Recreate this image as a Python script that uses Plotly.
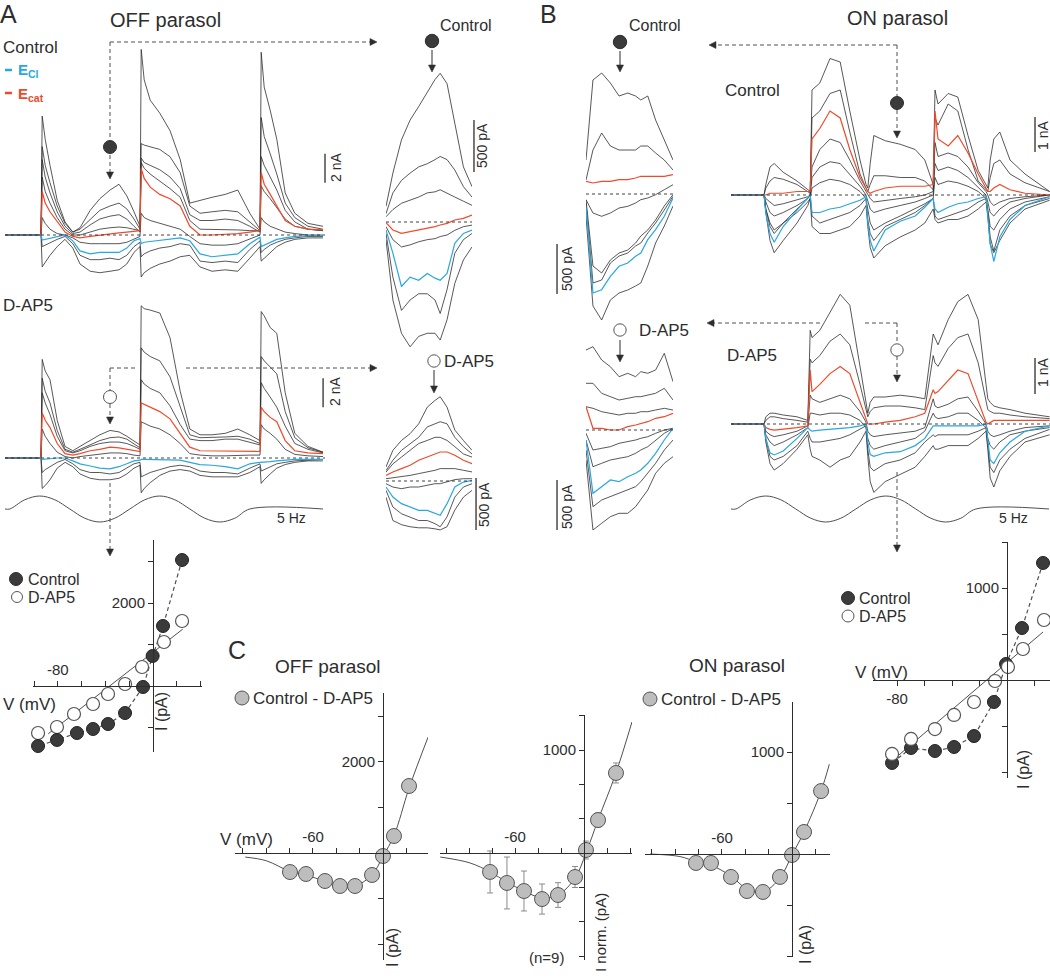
import plotly.graph_objects as go

W, H = 1050, 978
FONT = "Liberation Sans, Arial, Helvetica, sans-serif"
INK = "#2d2d2d"
GREY = "#505050"
RED = "#ef4a2b"
BLUE = "#29a7e0"
DARK_DOT = "#3b3b3b"
GREY_DOT = "#bdbdbd"

# %% Data ------------------------------------------------------------------
# Panel A recordings, current in nA, sampled at T_A (ms)
T_A = [0, 60, 62, 67, 75, 87, 100, 113, 125, 142, 158, 175, 190, 203, 215,
       225, 227, 232, 242, 258, 275, 292, 308, 325, 345, 367, 388, 408, 425,
       427, 432, 442, 453, 467, 483, 505, 530]

A_CTRL_BLACK = [
    [0, 0, 8.2, 6.6, 4.8, 2.4, 0.9, 0.2, 0.5, 1.7, 2.5, 3.1, 3.5, 2.7, 1.6, 0.6, 12.8, 10.7, 9.3, 8.4, 7.2, 5.2, 2.2, 2.4, 2.6, 2.8, 3.1, 1.5, 0.4, 12.6, 10.2, 8.6, 6.6, 2.9, 1.5, 0.8, 0.6],
    [0, 0, 6.1, 4.8, 3.6, 2.0, 0.8, 0.2, 0.4, 1.1, 1.7, 2.0, 2.2, 1.8, 1.1, 0.4, 6.3, 6.2, 6.1, 5.9, 5.4, 4.3, 2.0, 1.5, 1.6, 1.7, 1.6, 0.9, 0.3, 8.1, 6.8, 5.6, 4.2, 2.2, 1.2, 0.6, 0.4],
    [0, 0, 5.2, 4.0, 2.9, 1.6, 0.6, 0.1, 0.2, 0.7, 1.1, 1.3, 1.4, 1.1, 0.6, 0.2, 5.3, 5.0, 4.8, 4.5, 4.0, 3.2, 1.4, 1.0, 1.0, 1.1, 1.0, 0.6, 0.2, 5.4, 4.8, 4.0, 3.1, 1.7, 0.9, 0.4, 0.3],
    [0, 0, 4.0, 3.0, 2.2, 1.2, 0.4, 0.0, 0.0, 0.2, 0.4, 0.5, 0.55, 0.5, 0.4, 0.3, 5.0, 4.6, 4.2, 3.7, 3.2, 2.6, 1.0, 0.4, 0.4, 0.4, 0.35, 0.3, 0.3, 3.4, 3.0, 2.5, 1.9, 1.1, 0.6, 0.4, 0.3],
    [0, 0, 1.2, 0.8, 0.4, 0.1, 0.0, -0.2, -0.5, -0.6, -0.6, -0.6, -0.6, -0.5, -0.3, -0.1, 1.5, 1.2, 1.0, 0.8, 0.6, 0.4, -0.1, -0.6, -0.7, -0.7, -0.6, -0.3, 0.0, 1.2, 0.9, 0.6, 0.4, 0.2, 0.1, 0.0, 0.0],
    [0, 0, -0.8, -0.7, -0.5, -0.3, -0.1, -0.6, -1.4, -1.7, -1.7, -1.6, -1.7, -1.4, -0.8, -0.5, -1.5, -1.3, -1.1, -0.9, -0.8, -0.6, -0.7, -1.8, -1.9, -1.8, -1.9, -1.0, -0.4, -1.2, -1.0, -0.7, -0.5, -0.3, -0.2, -0.1, -0.1],
    [0, 0, -2.2, -1.9, -1.4, -0.8, -0.3, -0.9, -2.0, -2.5, -2.6, -2.5, -2.4, -2.0, -1.2, -0.8, -2.9, -2.6, -2.3, -2.0, -1.8, -1.5, -1.4, -2.2, -2.5, -2.4, -2.5, -1.6, -0.8, -1.8, -1.6, -1.2, -0.8, -0.5, -0.3, -0.2, -0.2],
]
A_CTRL_RED = [0, 0, 3.0, 2.2, 1.6, 0.9, 0.2, -0.1, -0.2, -0.1, 0.0, 0.1, 0.15, 0.2, 0.25, 0.3, 4.6, 3.9, 3.3, 2.8, 2.5, 2.0, 0.6, 0.0, 0.0, 0.05, 0.1, 0.2, 0.3, 4.3, 3.5, 2.8, 2.0, 1.0, 0.6, 0.4, 0.35]
A_CTRL_BLUE = [0, 0, -0.35, -0.3, -0.25, -0.1, 0.0, -0.4, -1.1, -1.3, -1.2, -1.2, -1.2, -0.9, -0.4, -0.25, -0.6, -0.5, -0.45, -0.35, -0.3, -0.2, -0.4, -1.3, -1.5, -1.4, -1.3, -0.6, -0.15, -0.8, -0.7, -0.5, -0.3, -0.2, -0.1, -0.05, -0.05]

A_AP5_BLACK = [
    [0, 0, 6.8, 6.0, 5.4, 2.6, 0.8, 0.5, 0.8, 1.2, 1.6, 1.9, 1.8, 1.5, 1.2, 0.9, 10.5, 10.3, 10.2, 10.0, 8.3, 4.6, 2.0, 1.6, 1.6, 1.7, 2.0, 1.6, 1.2, 10.1, 9.8, 9.0, 8.6, 4.5, 1.7, 0.8, 0.4],
    [0, 0, 5.5, 4.6, 3.8, 1.9, 0.6, 0.4, 0.6, 0.9, 1.2, 1.4, 1.45, 1.3, 1.0, 0.7, 7.6, 7.3, 7.0, 6.7, 5.6, 3.6, 1.6, 1.4, 1.4, 1.45, 1.5, 1.3, 1.0, 7.0, 6.7, 6.3, 5.8, 3.2, 1.4, 0.7, 0.4],
    [0, 0, 4.5, 3.8, 3.0, 1.5, 0.5, 0.35, 0.5, 0.8, 1.0, 1.1, 1.1, 1.0, 0.8, 0.6, 5.4, 5.1, 4.8, 4.5, 3.6, 2.3, 1.3, 1.2, 1.2, 1.3, 1.3, 1.1, 0.9, 5.2, 4.8, 4.2, 3.5, 2.2, 1.0, 0.6, 0.35],
    [0, 0, 2.0, 1.5, 1.0, 0.4, 0.1, 0.0, 0.1, 0.2, 0.3, 0.35, 0.35, 0.3, 0.2, 0.15, 2.5, 2.4, 2.2, 2.0, 1.6, 1.0, 0.3, 0.2, 0.15, 0.15, 0.2, 0.2, 0.2, 2.3, 2.0, 1.7, 1.3, 0.6, 0.25, 0.15, 0.1],
    [0, 0, -1.0, -0.8, -0.6, -0.3, -0.1, -0.4, -0.8, -1.0, -1.0, -1.1, -1.0, -0.7, -0.4, -0.3, -1.3, -1.2, -1.0, -0.8, -0.6, -0.5, -0.6, -0.9, -1.0, -1.0, -1.1, -0.7, -0.4, -0.9, -0.8, -0.6, -0.4, -0.3, -0.2, -0.15, -0.1],
    [0, 0, -2.1, -1.9, -1.5, -0.7, -0.3, -0.6, -1.1, -1.4, -1.5, -1.5, -1.4, -1.1, -0.7, -0.5, -2.4, -2.1, -1.7, -1.2, -0.9, -0.8, -0.9, -1.2, -1.3, -1.3, -1.3, -1.0, -0.6, -1.75, -1.5, -1.1, -0.7, -0.45, -0.3, -0.2, -0.2],
]
A_AP5_RED = [0, 0, 3.1, 2.6, 2.1, 1.0, 0.3, 0.2, 0.3, 0.5, 0.6, 0.75, 0.7, 0.6, 0.5, 0.45, 3.8, 3.7, 3.5, 3.2, 2.7, 1.7, 0.75, 0.5, 0.5, 0.5, 0.5, 0.5, 0.45, 3.5, 3.2, 2.8, 2.5, 1.2, 0.5, 0.35, 0.3]
A_AP5_BLUE = [0, 0, -0.1, -0.1, -0.05, 0.0, 0.0, -0.2, -0.4, -0.55, -0.7, -0.75, -0.6, -0.4, -0.2, -0.15, -0.1, -0.1, -0.1, -0.15, -0.15, -0.15, -0.3, -0.45, -0.5, -0.6, -0.75, -0.4, -0.3, -0.3, -0.3, -0.25, -0.2, -0.15, -0.1, -0.1, -0.1]

# Panel B recordings, current in nA, sampled at T_B (ms)
T_B = [0, 55, 58, 65, 72, 87, 110, 128, 132, 135, 148, 165, 182, 198, 215,
       225, 228, 232, 238, 257, 282, 307, 323, 337, 340, 345, 362, 378, 395,
       412, 425, 428, 432, 438, 448, 465, 490, 531]

B_CTRL_BLACK = [
    [0, 0, 0.3, 0.8, 0.9, 0.65, 0.4, 0.15, 0.1, 3.0, 3.2, 3.9, 3.8, 2.4, 1.0, 0.3, 0.2, 0.9, 1.7, 1.55, 1.45, 1.3, 1.0, 0.3, 3.0, 2.6, 2.9, 2.8, 1.7, 0.7, 0.3, 0.2, 1.0, 1.6, 1.8, 1.0, 0.6, 0.1],
    [0, 0, 0.2, 0.4, 0.5, 0.45, 0.3, 0.1, 0.05, 2.2, 2.4, 2.9, 3.0, 1.8, 0.6, 0.2, 0.1, 0.3, 0.55, 0.55, 0.5, 0.5, 0.4, 0.15, 2.2, 2.0, 2.6, 2.4, 1.3, 0.4, 0.15, 0.1, 0.5, 0.9, 1.0, 0.6, 0.35, 0.1],
    [0, 0, -0.1, -0.2, -0.3, -0.25, -0.15, -0.05, 0.0, 0.8, 1.3, 1.6, 1.5, 1.0, 0.4, 0.1, 0.0, -0.1, -0.2, -0.15, -0.1, -0.05, 0.0, 0.1, 1.5, 1.1, 1.2, 1.1, 0.8, 0.35, 0.1, 0.0, -0.2, -0.3, -0.2, -0.1, -0.05, 0.0],
    [0, 0, -0.2, -0.5, -0.6, -0.5, -0.3, -0.1, 0.0, 0.5, 0.8, 0.95, 0.9, 0.6, 0.25, 0.0, -0.2, -0.4, -0.5, -0.4, -0.3, -0.2, -0.1, 0.0, 0.9, 0.7, 0.8, 0.7, 0.5, 0.2, 0.0, -0.2, -0.5, -0.6, -0.4, -0.2, -0.1, 0.0],
    [0, 0, -0.4, -0.8, -1.0, -0.8, -0.5, -0.2, -0.1, 0.2, 0.35, 0.45, 0.4, 0.3, 0.1, -0.1, -0.4, -0.8, -1.0, -0.8, -0.6, -0.4, -0.25, -0.1, 0.5, 0.3, 0.4, 0.35, 0.25, 0.1, -0.1, -0.4, -0.9, -1.0, -0.7, -0.4, -0.2, -0.05],
    [0, 0, -0.4, -0.9, -1.1, -0.8, -0.4, -0.1, 0.0, -0.6, -0.8, -0.7, -0.6, -0.5, -0.3, -0.1, -0.7, -1.1, -1.3, -0.9, -0.7, -0.5, -0.3, -0.1, -0.6, -0.7, -0.6, -0.5, -0.4, -0.2, -0.1, -0.5, -1.2, -1.6, -1.0, -0.6, -0.3, -0.1],
    [0, 0, -0.5, -1.3, -1.65, -1.3, -0.8, -0.3, -0.1, -0.9, -1.1, -1.1, -1.0, -0.9, -0.6, -0.3, -0.9, -1.5, -1.8, -1.45, -1.2, -1.0, -0.8, -0.4, -0.7, -0.8, -0.7, -0.7, -0.6, -0.4, -0.2, -0.6, -1.4, -1.65, -1.3, -0.8, -0.4, -0.15],
]
B_CTRL_RED = [0, 0, 0, 0.05, 0.05, 0.05, 0.1, 0.1, 0.1, 1.6, 1.9, 2.4, 2.2, 1.3, 0.5, 0.2, 0.1, 0.05, 0.1, 0.2, 0.25, 0.25, 0.25, 0.3, 2.4, 1.6, 1.4, 1.7, 1.2, 0.6, 0.2, 0.1, 0.1, 0.2, 0.3, 0.15, 0.05, 0.0]
B_CTRL_BLUE = [0, 0, -0.5, -1.1, -1.35, -0.9, -0.43, -0.1, 0.0, -0.5, -0.5, -0.4, -0.35, -0.25, -0.15, -0.05, -0.8, -1.3, -1.6, -1.0, -0.75, -0.6, -0.35, -0.1, -0.4, -0.5, -0.35, -0.25, -0.2, -0.1, -0.05, -0.6, -1.4, -1.9, -1.2, -0.7, -0.3, -0.05]

B_AP5_BLACK = [
    [0, 0, 0.2, 0.3, 0.3, 0.25, 0.2, 0.1, 2.6, 2.4, 2.6, 3.1, 3.6, 3.3, 1.6, 0.6, 0.3, 0.6, 0.75, 0.75, 0.8, 0.75, 0.7, 2.5, 2.4, 2.2, 2.9, 3.4, 3.6, 2.9, 1.1, 0.7, 0.6, 0.5, 0.45, 0.4, 0.3, 0.2],
    [0, 0, 0.1, 0.2, 0.2, 0.15, 0.1, 0.05, 1.8, 1.7, 1.9, 2.3, 2.5, 2.2, 1.1, 0.4, 0.2, 0.35, 0.45, 0.5, 0.5, 0.45, 0.4, 1.9, 1.7, 1.6, 2.1, 2.4, 2.5, 1.7, 0.7, 0.4, 0.35, 0.3, 0.3, 0.25, 0.2, 0.15],
    [0, 0, -0.2, -0.3, -0.35, -0.3, -0.2, -0.05, 0.8, 0.7, 0.6, 0.7, 0.8, 0.7, 0.35, 0.05, -0.2, -0.3, -0.35, -0.3, -0.25, -0.2, -0.1, 0.7, 0.5, 0.45, 0.55, 0.7, 0.75, 0.35, 0.0, -0.2, -0.3, -0.35, -0.3, -0.2, -0.1, -0.05],
    [0, 0, -0.3, -0.5, -0.6, -0.5, -0.3, -0.1, 0.3, 0.3, 0.25, 0.3, 0.3, 0.25, 0.1, -0.1, -0.4, -0.6, -0.7, -0.6, -0.5, -0.4, -0.2, 0.3, 0.2, 0.15, 0.2, 0.3, 0.3, 0.1, -0.1, -0.4, -0.6, -0.7, -0.5, -0.3, -0.2, -0.1],
    [0, 0, -0.4, -0.9, -1.0, -0.9, -0.6, -0.2, -0.4, -0.5, -0.5, -0.45, -0.4, -0.3, -0.15, -0.05, -0.7, -1.2, -1.3, -1.1, -1.0, -0.8, -0.5, -0.3, -0.35, -0.3, -0.3, -0.3, -0.3, -0.2, -0.1, -0.6, -1.2, -1.35, -1.0, -0.7, -0.4, -0.15],
    [0, 0, -0.5, -1.1, -1.28, -1.1, -0.7, -0.3, -0.7, -0.9, -1.0, -1.2, -1.0, -0.9, -0.5, -0.2, -0.9, -1.6, -1.9, -1.6, -1.4, -1.2, -0.9, -0.6, -0.7, -0.7, -0.6, -0.6, -0.6, -0.4, -0.2, -0.7, -1.5, -1.75, -1.3, -0.9, -0.5, -0.3],
]
B_AP5_RED = [0, 0, -0.1, -0.15, -0.17, -0.15, -0.1, -0.05, 1.5, 0.9, 1.1, 1.4, 1.6, 1.4, 0.6, 0.1, 0.0, 0.0, 0.0, 0.05, 0.1, 0.2, 0.3, 0.95, 0.85, 0.9, 1.2, 1.5, 1.4, 0.6, 0.05, 0.0, 0.05, 0.1, 0.1, 0.1, 0.1, 0.1]
B_AP5_BLUE = [0, 0, -0.4, -0.8, -0.86, -0.75, -0.4, -0.1, -0.17, -0.2, -0.17, -0.15, -0.12, -0.1, -0.05, 0.0, -0.5, -0.85, -0.9, -0.8, -0.77, -0.6, -0.4, -0.05, -0.05, -0.05, -0.05, -0.05, -0.05, -0.05, 0.0, -0.5, -1.0, -1.1, -0.8, -0.5, -0.2, -0.05]

# 5 Hz stimulus (relative contrast)
STIM_T = [0, 8, 33, 58, 83, 108, 133, 158, 183, 208, 233, 258, 283, 308, 333, 358, 383, 408, 530]
STIM_V = [0, 0, 0.71, 1, 0.71, 0, -0.71, -1, -0.71, 0, 0.71, 1, 0.71, 0, -0.71, -1, -0.71, 0, 0]

# Expanded views (pA) of the marked half-cycle, time in % of window
Z_T = [0, 8, 18, 28, 38, 48, 57, 63, 71, 80, 90, 100]

AZ_CTRL_BLACK = [
    [150, 470, 790, 980, 1110, 1240, 1370, 1430, 1330, 950, 530, 340],
    [80, 280, 400, 470, 530, 560, 600, 630, 600, 500, 340, 240],
    [50, 120, 180, 210, 240, 280, 290, 310, 280, 240, 200, 160],
    [-45, -170, -240, -220, -190, -170, -160, -140, -125, -80, -45, -30],
    [-110, -530, -850, -750, -690, -690, -750, -880, -650, -300, -170, -110],
    [-170, -750, -1070, -1200, -1100, -1070, -1070, -1135, -940, -590, -365, -240],
]
AZ_CTRL_RED = [-6, -77, -109, -93, -77, -61, -45, -29, -13, 19, 35, 67]
AZ_CTRL_BLUE = [-77, -300, -620, -530, -560, -495, -540, -560, -495, -205, -110, -77]

AZ_AP5_BLACK = [
    [135, 295, 390, 455, 550, 710, 775, 810, 710, 490, 390, 295],
    [100, 200, 295, 360, 420, 520, 550, 570, 550, 420, 330, 260],
    [85, 165, 230, 295, 360, 390, 420, 420, 390, 330, 260, 230],
    [22, 32, 38, 54, 71, 87, 103, 119, 119, 119, 103, 87],
    [-26, -58, -74, -58, -58, -42, -26, -26, -10, 13, 22, 22],
    [-90, -250, -315, -345, -380, -380, -410, -440, -345, -155, -58, -26],
    [-155, -380, -420, -440, -450, -450, -460, -470, -440, -280, -155, -90],
]
AZ_AP5_RED = [54, 87, 119, 151, 199, 231, 263, 279, 279, 247, 199, 167]
AZ_AP5_BLUE = [-58, -154, -218, -250, -282, -282, -314, -330, -218, -58, -10, 6]

BZ_CTRL_BLACK = [
    [340, 1140, 1210, 1110, 980, 1010, 980, 940, 980, 740, 540, 340],
    [140, 440, 610, 480, 440, 440, 440, 480, 480, 410, 340, 240],
    [-57, -190, -223, -190, -140, -123, -90, -57, -40, -7, 43, 93],
    [-57, -720, -790, -660, -590, -560, -490, -420, -360, -260, -120, -7],
    [-90, -890, -860, -690, -620, -590, -520, -490, -390, -290, -160, -23],
    [-220, -1120, -1260, -1060, -990, -960, -920, -890, -720, -490, -320, -120],
]
BZ_CTRL_RED = [127, 110, 127, 127, 143, 143, 160, 177, 177, 177, 177, 193]
BZ_CTRL_BLUE = [-123, -990, -957, -823, -723, -690, -623, -590, -457, -357, -223, -40]

BZ_AP5_BLACK = [
    [800, 833, 700, 633, 533, 567, 533, 583, 567, 600, 767, 483],
    [467, 467, 367, 333, 300, 317, 333, 333, 350, 367, 417, 300],
    [233, 217, 183, 167, 150, 167, 167, 183, 183, 200, 217, 200],
    [-33, -200, -183, -167, -133, -117, -100, -83, -67, -33, 0, 17],
    [-100, -367, -333, -300, -283, -267, -233, -200, -167, -100, -33, 17],
    [-200, -767, -700, -667, -633, -600, -567, -517, -433, -333, -200, -100],
    [-300, -1000, -933, -867, -833, -833, -767, -700, -600, -433, -333, -267],
]
BZ_AP5_RED = [233, 17, 17, 0, 0, 33, 50, 67, 83, 117, 133, 167]
BZ_AP5_BLUE = [-100, -633, -567, -500, -517, -467, -433, -400, -333, -233, -100, 17]

# I-V relations (mV, pA)
A_IV_V_CTRL = [24.4, 8.4, -0.3, -8.4, -23.5, -37.8, -50.4, -63.9, -80.7, -96.6]
A_IV_I_CTRL = [3036, 1446, 723, -24, -651, -916, -1036, -1133, -1300, -1446]
A_IV_V_AP5 = [24.4, 9.2, -9.2, -23.5, -37.8, -50.4, -66.4, -80.7, -96.6]
A_IV_I_AP5 = [1566, 1060, 458, 48, -193, -434, -675, -988, -1133]
A_FIT_V = [-88, 25]
A_FIT_I = [-1150, 1370]
A_IV_XTICKS = [-100, -80, -60, -40, -20, 20, 40]
A_IV_XTEXT = ["", "-80", "", "", "", "", ""]
A_IV_YTICKS = [-1000, 1000, 2000, 3000]
A_IV_YTEXT = ["", "", "2000", ""]

B_IV_V_CTRL = [26.2, 10.9, -0.7, -9.5, -24.0, -38.5, -52.4, -69.8, -83.6]
B_IV_I_CTRL = [1272, 565, 174, -239, -609, -728, -772, -739, -902]
B_IV_V_AP5 = [26.9, 11.6, 0.7, -8.7, -24.0, -38.5, -52.4, -69.8, -83.6]
B_IV_I_AP5 = [652, 337, 141, -11, -239, -380, -533, -641, -804]
B_FIT_V = [-82.9, 26.2]
B_FIT_I = [-870, 522]
B_IV_XTICKS = [-80, -60, -40, -20, 20]
B_IV_XTEXT = ["-80", "", "", "", ""]
B_IV_YTICKS = [-1000, -500, 500, 1000, 1500]
B_IV_YTEXT = ["", "", "", "1000", ""]

# Panel C: Control - D-AP5 difference I-V
C1_V = [22.3, 9.4, 0, -9.4, -24, -36.9, -49.7, -66, -79.7]
C1_I = [1469, 373, -66, -482, -724, -724, -614, -460, -417]
C1_FIT_V = [-118, -100, -80, -66, -50, -37, -24, -9.4, 0, 9.4, 22.3, 38.6]
C1_FIT_I = [-90, -170, -400, -480, -620, -710, -720, -480, -70, 380, 1420, 2540]

C2_V = [27.8, 12.2, 1.7, -7.8, -22.6, -36.5, -52.2, -67.0, -81.7]
C2_I = [777, 320, 29, -233, -408, -447, -369, -291, -184]
C2_ERR = [97, 68, 87, 102, 120, 146, 194, 252, 204]
C2_FIT_V = [-125, -99, -81.7, -67, -52.2, -36.5, -22.6, -7.8, 1.7, 12.2, 27.8, 41.7]
C2_FIT_I = [-39, -97, -184, -282, -369, -437, -408, -243, 0, 320, 777, 1272]

C3_V = [24.9, 10.3, 0, -10.3, -24.9, -38.6, -52.3, -69.4, -82.3]
C3_I = [617, 216, -10, -225, -372, -363, -225, -88, -88]
C3_FIT_V = [-121.7, -96, -82.3, -69.4, -52.3, -38.6, -24.9, -10.3, 0, 10.3, 24.9, 32]
C3_FIT_I = [0, -25, -75, -110, -216, -343, -372, -235, -10, 216, 617, 880]

C_XTICKS = [-120, -100, -80, -60, -40, -20, 20, 40]
C_XTEXT = ["", "", "", "-60", "", "", "", ""]
C1_YTICKS = [-2000, -1000, 1000, 2000, 3000]
C1_YTEXT = ["", "", "", "2000", ""]
C2_YTICKS = [-1000, -666.7, -333.3, 333.3, 666.7, 1000, 1333.3]
C2_YTEXT = ["", "", "", "", "", "1000", ""]
C3_YTICKS = [-1000, -500, 500, 1000, 1500]
C3_YTEXT = ["", "", "", "1000", ""]


# %% Helpers --------------------------------------------------------------
def fx(px):
    return px / W


def fy(py):
    return 1 - py / H


def names(n):
    s = "" if n == 1 else str(n)
    return "x" + s, "y" + s, "xaxis" + s, "yaxis" + s


fig = go.Figure()
axes = {}
shapes = []
notes = []


def line(xa, ya, xs, ys, color=INK, width=0.8, dash=None, shape="linear"):
    fig.add_trace(go.Scatter(x=xs, y=ys, mode="lines", xaxis=xa, yaxis=ya,
                             line=dict(color=color, width=width, dash=dash, shape=shape),
                             hoverinfo="skip", showlegend=False))


def trace_panel(n, xpx, ypx, base, kx, ky, t, blacks, red=None, blue=None,
                bar=None, baseline=True, color=INK, width=0.8, shape="linear"):
    xa, ya, xk, yk = names(n)
    axes[xk] = dict(domain=[fx(xpx[0]), fx(xpx[1])], range=[0, (xpx[1] - xpx[0]) / kx],
                    visible=False, anchor=ya, fixedrange=True)
    axes[yk] = dict(domain=[fy(ypx[1]), fy(ypx[0])],
                    range=[(base - ypx[1]) / ky, (base - ypx[0]) / ky],
                    visible=False, anchor=xa, fixedrange=True)
    if baseline:
        shapes.append(dict(type="line", xref=xa + " domain", x0=0, x1=1, yref=ya, y0=0, y1=0,
                           line=dict(color=INK, width=0.9, dash="3px,3px")))
    for ys in blacks:
        line(xa, ya, t, ys, color=color, width=width, shape=shape)
    if red:
        line(xa, ya, t, red, RED, 1.2)
    if blue:
        line(xa, ya, t, blue, BLUE, 1.2)
    if bar:
        bx, b0, b1 = bar
        shapes.append(dict(type="line", xref=xa + " domain", x0=bx, x1=bx, yref=ya, y0=b0, y1=b1,
                           line=dict(color=INK, width=1.3)))


def iv_panel(n, xpx, ypx, zero, k, xticks, xtext, yticks, ytext, xside):
    xa, ya, xk, yk = names(n)
    zx, zy = zero
    kx, ky = k
    style = dict(showline=True, linecolor=INK, linewidth=1, ticks="outside", ticklen=5,
                 tickwidth=1, tickcolor=INK, showgrid=False, zeroline=False, anchor="free",
                 tickfont=dict(size=15, color=INK, family=FONT), fixedrange=True)
    axes[xk] = dict(domain=[fx(xpx[0]), fx(xpx[1])],
                    range=[(xpx[0] - zx) / kx, (xpx[1] - zx) / kx],
                    position=fy(zy), side=xside, tickvals=xticks, ticktext=xtext, **style)
    axes[yk] = dict(domain=[fy(ypx[1]), fy(ypx[0])],
                    range=[(zy - ypx[1]) / ky, (zy - ypx[0]) / ky],
                    position=fx(zx), side="left", tickvals=yticks, ticktext=ytext, **style)
    return xa, ya


def pts(xa, ya, v, i, size, fill, edge, ew=1.0, err=None):
    eb = None
    if err:
        eb = dict(type="data", array=err, visible=True, color="#8a8a8a", thickness=1, width=3)
    fig.add_trace(go.Scatter(x=v, y=i, mode="markers", xaxis=xa, yaxis=ya, cliponaxis=False,
                             marker=dict(size=size, color=fill, line=dict(color=edge, width=ew)),
                             error_y=eb, hoverinfo="skip", showlegend=False))


def txt(s, x, y, size=16, anchor="left", color=INK, angle=0):
    notes.append(dict(text=s, x=fx(x), y=fy(y), xref="paper", yref="paper", xanchor=anchor,
                      yanchor="middle", showarrow=False, textangle=angle,
                      font=dict(size=size, color=color, family=FONT)))


def head(x, y, d, ln=7, hw=3.5):
    # small filled arrowhead with its tip at (x, y)
    if d == "r":
        p = [(x, y), (x - ln, y - hw), (x - ln, y + hw)]
    elif d == "l":
        p = [(x, y), (x + ln, y - hw), (x + ln, y + hw)]
    else:
        p = [(x, y), (x - hw, y - ln), (x + hw, y - ln)]
    path = "M " + " L ".join(f"{fx(a):.5f} {fy(b):.5f}" for a, b in p) + " Z"
    shapes.append(dict(type="path", xref="paper", yref="paper", path=path,
                       fillcolor=INK, line=dict(color=INK, width=0.5)))


def dash(x0, y0, x1, y1):
    shapes.append(dict(type="line", xref="paper", yref="paper", x0=fx(x0), y0=fy(y0),
                       x1=fx(x1), y1=fy(y1), line=dict(color=GREY, width=1, dash="4px,3px")))


def solid(x0, y0, x1, y1, color=INK, width=1):
    shapes.append(dict(type="line", xref="paper", yref="paper", x0=fx(x0), y0=fy(y0),
                       x1=fx(x1), y1=fy(y1), line=dict(color=color, width=width)))


def dot(cx, cy, r, fill, edge=INK, ew=1):
    shapes.append(dict(type="circle", xref="paper", yref="paper", x0=fx(cx - r), x1=fx(cx + r),
                       y0=fy(cy + r), y1=fy(cy - r), fillcolor=fill, line=dict(color=edge, width=ew)))


# %% Panels A and B: recordings ------------------------------------------
trace_panel(1, (5, 325), (40, 285), 235, 0.6, 14.5, T_A, A_CTRL_BLACK, A_CTRL_RED, A_CTRL_BLUE,
            bar=(1.0, 3.6, 5.6))
trace_panel(2, (5, 325), (298, 497), 458, 0.6, 14.5, T_A, A_AP5_BLACK, A_AP5_RED, A_AP5_BLUE,
            bar=(0.994, 3.5, 5.5))
trace_panel(3, (5, 325), (490, 528), 509, 0.6, 13, STIM_T, [STIM_V], baseline=False,
            color=GREY, width=1, shape="spline")
trace_panel(4, (731, 1050), (50, 265), 195, 0.6, 35, T_B, B_CTRL_BLACK, B_CTRL_RED, B_CTRL_BLUE,
            bar=(0.953, 1.23, 2.23))
trace_panel(5, (731, 1050), (280, 500), 424, 0.6, 36, T_B, B_AP5_BLACK, B_AP5_RED, B_AP5_BLUE,
            bar=(0.953, 0.83, 1.83))
trace_panel(6, (731, 1050), (490, 528), 509, 0.6, 13, STIM_T, [STIM_V], baseline=False,
            color=GREY, width=1, shape="spline")

# expanded views
trace_panel(7, (386, 472), (62, 352), 222, 0.86, 0.104, Z_T, AZ_CTRL_BLACK, AZ_CTRL_RED,
            AZ_CTRL_BLUE, bar=(1.023, 480, 980))
trace_panel(8, (386, 472), (388, 532), 481, 0.86, 0.104, Z_T, AZ_AP5_BLACK, AZ_AP5_RED,
            AZ_AP5_BLUE, bar=(1.047, -470, 30))
trace_panel(9, (586, 673), (62, 330), 194, 0.87, 0.1, Z_T, BZ_CTRL_BLACK, BZ_CTRL_RED,
            BZ_CTRL_BLUE, bar=(-0.333, -1000, -500))
trace_panel(10, (586, 673), (335, 534), 430, 0.87, 0.1, Z_T, BZ_AP5_BLACK, BZ_AP5_RED,
            BZ_AP5_BLUE, bar=(-0.333, -1000, -500))

# %% I-V plots ------------------------------------------------------------
xa, ya = iv_panel(11, (33, 202), (540, 752), (153, 686), (1.19, 0.0415),
                  A_IV_XTICKS, A_IV_XTEXT, A_IV_YTICKS, A_IV_YTEXT, "top")
line(xa, ya, A_IV_V_CTRL, A_IV_I_CTRL, GREY, 1.2, dash="4px,3px")
line(xa, ya, A_FIT_V, A_FIT_I, GREY, 1)
pts(xa, ya, A_IV_V_AP5, A_IV_I_AP5, 13, "white", "#555555", 1.2)
pts(xa, ya, A_IV_V_CTRL, A_IV_I_CTRL, 13, DARK_DOT, "#222222")

xa, ya = iv_panel(12, (873, 1050), (542, 778), (1007, 680), (1.375, 0.092),
                  B_IV_XTICKS, B_IV_XTEXT, B_IV_YTICKS, B_IV_YTEXT, "bottom")
line(xa, ya, B_IV_V_CTRL, B_IV_I_CTRL, GREY, 1.2, dash="4px,3px")
line(xa, ya, B_FIT_V, B_FIT_I, GREY, 1)
pts(xa, ya, B_IV_V_CTRL, B_IV_I_CTRL, 13, DARK_DOT, "#222222")
pts(xa, ya, B_IV_V_AP5, B_IV_I_AP5, 13, "white", "#555555", 1.2)

xa, ya = iv_panel(13, (235, 428), (693, 960), (383, 853), (1.167, 0.0456),
                  C_XTICKS, C_XTEXT, C1_YTICKS, C1_YTEXT, "top")
line(xa, ya, C1_FIT_V, C1_FIT_I, GREY, 1, shape="spline")
pts(xa, ya, C1_V, C1_I, 15, GREY_DOT, "#555555")

xa, ya = iv_panel(14, (440, 632), (715, 960), (584, 853), (1.15, 0.103),
                  C_XTICKS, C_XTEXT, C2_YTICKS, C2_YTEXT, "top")
line(xa, ya, C2_FIT_V, C2_FIT_I, GREY, 1, shape="spline")
pts(xa, ya, C2_V, C2_I, 15, GREY_DOT, "#555555", err=C2_ERR)

xa, ya = iv_panel(15, (645, 830), (702, 957), (792, 854), (1.167, 0.102),
                  C_XTICKS[:-1], C_XTEXT[:-1], C3_YTICKS, C3_YTEXT, "top")
line(xa, ya, C3_FIT_V, C3_FIT_I, GREY, 1, shape="spline")
pts(xa, ya, C3_V, C3_I, 15, GREY_DOT, "#555555")

# %% Text, keys and connectors ------------------------------------------
txt("A", 8, 14, 25, "center")
txt("B", 548, 14, 25, "center")
txt("C", 237, 650, 25, "center")
txt("OFF parasol", 165, 20, 20, "center")
txt("ON parasol", 897, 18, 20, "center")
txt("Control", 1, 47, 17)
solid(5, 70, 12, 70, BLUE, 2.5)
txt("<b>E<sub>Cl</sub></b>", 16, 71, 15, color=BLUE)
solid(5, 93, 12, 93, RED, 2.5)
txt("<b>E<sub>cat</sub></b>", 16, 94, 15, color=RED)
txt("D-AP5", 1, 305, 17)
txt("Control", 723, 90, 17)
txt("D-AP5", 725, 355, 17)

txt("2 nA", 336, 168, 14, "center", angle=-90)
txt("2 nA", 335, 392, 14, "center", angle=-90)
txt("1 nA", 1043, 136, 14, "center", angle=-90)
txt("1 nA", 1043, 373, 14, "center", angle=-90)
txt("500 pA", 482, 146, 14, "center", angle=-90)
txt("500 pA", 484, 505, 14, "center", angle=-90)
txt("500 pA", 567, 269, 14, "center", angle=-90)
txt("500 pA", 567, 507, 14, "center", angle=-90)
txt("5 Hz", 291, 518, 14, "center")
txt("5 Hz", 1013, 518, 14, "center")

# expanded-view markers
dot(432, 41, 6.7, DARK_DOT)
txt("Control", 438, 25, 16)
solid(432, 50, 432, 66)
head(432, 72, "d")
dot(434, 361, 6.2, "white", "#555555")
txt("D-AP5", 442, 362, 17)
solid(434, 370, 434, 387)
head(434, 393, "d")
dot(620, 42, 6.7, DARK_DOT)
txt("Control", 627, 25, 16)
solid(620, 51, 620, 66)
head(620, 72, "d")
dot(620, 330, 6.2, "white", "#555555")
txt("D-AP5", 637, 330, 17)
solid(620, 340, 620, 356)
head(620, 362, "d")

# dashed connectors, A
dash(110, 42, 370, 42)
head(377, 42, "r")
dash(110, 42, 110, 139)
dot(110, 147, 6.5, DARK_DOT)
dash(110, 155, 110, 173)
head(110, 179, "d")
dash(110, 368, 138, 368)
dash(186, 368, 370, 368)
head(377, 368, "r")
dash(110, 368, 110, 390)
dot(110, 397, 6.5, "white", "#555555")
dash(110, 404, 110, 418)
head(110, 424, "d")
dash(110, 483, 110, 550)
head(110, 556, "d")

# dashed connectors, B
dash(897, 45, 716, 45)
head(709, 45, "l")
dash(897, 45, 897, 96)
dot(897, 103, 6.5, DARK_DOT)
dash(897, 110, 897, 132)
head(897, 138, "d")
dash(897, 323, 863, 323)
dash(820, 323, 714, 323)
head(707, 323, "l")
dash(897, 323, 897, 344)
dot(897, 350, 6.2, "white", "#555555")
dash(897, 356, 897, 376)
head(897, 382, "d")
dash(897, 472, 897, 546)
head(897, 552, "d")

# I-V labels and keys
txt("V (mV)", 1, 704, 17)
txt("I (pA)", 161, 712, 16, "center", angle=-90)
dot(16, 579, 6.5, DARK_DOT)
txt("Control", 26, 579, 16)
dot(17, 597, 5.5, "white", "#555555")
txt("D-AP5", 26, 597, 16)

txt("V (mV)", 853, 672, 17)
txt("I (pA)", 1023, 770, 16, "center", angle=-90)
dot(848, 598, 6.5, DARK_DOT)
txt("Control", 857, 598, 16)
dot(848, 616, 6, "white", "#555555")
txt("D-AP5", 857, 616, 16)

txt("OFF parasol", 328, 666, 19, "center")
dot(242, 698, 7, GREY_DOT, "#555555")
txt("Control - D-AP5", 251, 698, 17)
txt("V (mV)", 218, 839, 17)
txt("I (pA)", 392, 948, 16, "center", angle=-90)

txt("(n=9)", 546, 957, 15, "center")
txt("I norm. (pA)", 600, 933, 15, "center", angle=-90)

txt("ON parasol", 737, 665, 19, "center")
dot(650, 699, 7, GREY_DOT, "#555555")
txt("Control - D-AP5", 659, 699, 17)
txt("I (pA)", 805, 945, 16, "center", angle=-90)

fig.update_layout(width=W, height=H, margin=dict(l=0, r=0, t=0, b=0),
                  paper_bgcolor="white", plot_bgcolor="rgba(0,0,0,0)",
                  font=dict(family=FONT, color=INK), showlegend=False, hovermode=False,
                  shapes=shapes, annotations=notes, **axes)

# the page's default body margin would push the figure 8 px off the corner
fig.write_html("out.html", config={"displayModeBar": False},
               post_script="document.body.style.margin='0';")
